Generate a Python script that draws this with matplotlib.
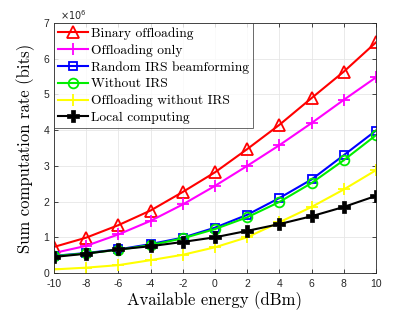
import matplotlib
matplotlib.use("Agg")
import matplotlib.pyplot as plt

energy = [-10, -8, -6, -4, -2, 0, 2, 4, 6, 8, 10]
binary = [0.73, 0.99, 1.34, 1.75, 2.27, 2.82, 3.47, 4.15, 4.90, 5.64, 6.46]
offload_only = [0.56, 0.76, 1.08, 1.46, 1.92, 2.44, 3.00, 3.58, 4.20, 4.85, 5.48]
random_irs = [0.48, 0.56, 0.66, 0.81, 0.99, 1.27, 1.63, 2.10, 2.62, 3.30, 3.99]
without_irs = [0.47, 0.55, 0.65, 0.78, 0.97, 1.23, 1.56, 1.99, 2.52, 3.16, 3.86]
offload_wo_irs = [0.10, 0.15, 0.22, 0.36, 0.51, 0.72, 1.00, 1.42, 1.85, 2.34, 2.88]
local = [0.45, 0.54, 0.66, 0.75, 0.87, 1.00, 1.18, 1.37, 1.59, 1.85, 2.16]
labels = ["Binary offloading", "Offloading only", "Random IRS beamforming",
          "Without IRS", "Offloading without IRS", "Local computing"]
xticks = [-10, -8, -6, -4, -2, 0, 2, 4, 6, 8, 10]
yticks = [0, 1, 2, 3, 4, 5, 6, 7]

fig = plt.figure(figsize=(4.15, 3.12), dpi=100)
ax = fig.add_axes([0.130, 0.125, 0.776, 0.801])

lw = 1.5
ax.plot(energy, binary, color='red', lw=lw, marker='^', ms=8.5, mfc='none', mew=1.3, label=labels[0])
ax.plot(energy, offload_only, color='magenta', lw=lw, marker='+', ms=9, mew=1.3, label=labels[1])
ax.plot(energy, random_irs, color='blue', lw=lw, marker='s', ms=6, mfc='none', mew=1.3, label=labels[2])
ax.plot(energy, without_irs, color='#00ee00', lw=lw, marker='o', ms=7, mfc='none', mew=1.3, label=labels[3])
ax.plot(energy, offload_wo_irs, color='yellow', lw=lw, marker='+', ms=9, mew=1.3, label=labels[4])
ax.plot(energy, local, color='black', lw=lw, marker='P', ms=8, mew=0.5, label=labels[5])

ax.set_xlim(-10, 10)
ax.set_ylim(0, 7)
ax.set_xticks(xticks)
ax.set_yticks(yticks)
ax.set_xticklabels([str(v) for v in xticks], fontsize=7.5, family='Liberation Sans')
ax.set_yticklabels([str(v) for v in yticks], fontsize=7.5, family='Liberation Sans')
ax.tick_params(direction='in', top=True, right=True, length=3, width=0.6, colors='#262626')
ax.tick_params(axis='x', pad=4)
ax.grid(True, color='#e6e6e6', lw=0.6)
ax.set_axisbelow(True)
for s in ax.spines.values():
    s.set_color('#262626')
    s.set_linewidth(0.6)

ax.set_xlabel("Available energy (dBm)", family='cmr10', fontsize=12, labelpad=2)
ax.set_ylabel("Sum computation rate (bits)", family='cmr10', fontsize=12, labelpad=6)
ax.text(0.02, 1.005, r"$\times10^6$", transform=ax.transAxes, fontsize=7, color='#262626',
        va='bottom', ha='left')

leg = ax.legend(loc='upper left', prop={'family': 'cmr10', 'size': 9.7}, frameon=True,
                fancybox=False, edgecolor='#262626', borderaxespad=0, handlelength=2.25,
                labelspacing=0.32, borderpad=0.3, handletextpad=0.2)
leg.get_frame().set_linewidth(0.6)

fig.savefig("out.png", dpi=100)
